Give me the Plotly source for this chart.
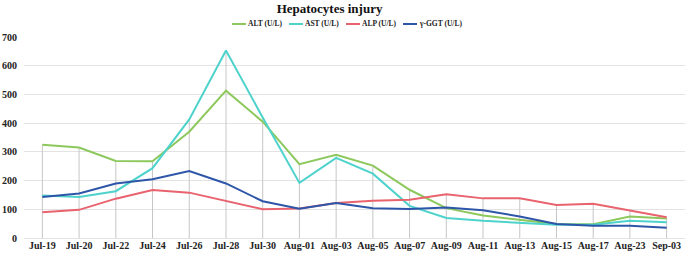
import plotly.graph_objects as go

dates = ["Jul-19", "Jul-20", "Jul-22", "Jul-24", "Jul-26", "Jul-28", "Jul-30", "Aug-01", "Aug-03",
         "Aug-05", "Aug-07", "Aug-09", "Aug-11", "Aug-13", "Aug-15", "Aug-17", "Aug-23", "Sep-03"]
alt = [325, 315, 268, 267, 370, 513, 405, 257, 290, 252, 168, 104, 78, 64, 49, 48, 75, 68]
ast = [148, 143, 163, 243, 413, 653, 420, 192, 279, 224, 112, 70, 60, 52, 46, 46, 60, 55]
alp = [90, 98, 137, 167, 158, 130, 100, 103, 122, 130, 133, 152, 138, 138, 115, 119, 96, 72]
ggt = [143, 155, 190, 205, 233, 190, 128, 102, 122, 104, 101, 106, 97, 75, 49, 43, 43, 36]

series_names = ["ALT (U/L)", "AST (U/L)", "ALP (U/L)", "γ-GGT (U/L)"]
series_values = [alt, ast, alp, ggt]
series_colors = ["#8CC85C", "#4DD3CC", "#E8636E", "#2E56A8"]

font_family = "Liberation Serif, Times New Roman, serif"
W, H = 685, 256
ML, MR, MT, MB = 24, 0, 37, 18
PW, PH = W - ML - MR, H - MT - MB

# drop lines from the highest value down to the axis
drop_x, drop_y = [], []
for i, d in enumerate(dates):
    top = max(v[i] for v in series_values)
    drop_x += [d, d, None]
    drop_y += [top, 0, None]

fig = go.Figure()
fig.add_trace(go.Scatter(x=drop_x, y=drop_y, mode="lines", showlegend=False, hoverinfo="skip",
                         line=dict(color="#C6C6C6", width=1)))
for name, vals, color in zip(series_names, series_values, series_colors):
    fig.add_trace(go.Scatter(x=dates, y=vals, mode="lines", name=name, showlegend=False,
                             line=dict(color=color, width=2)))

# custom compact legend (short line sample + label), positioned in pixels
legend_line_px = [232, 289, 346, 403]
legend_y_px = 24
def px_x(p):
    return (p - ML) / PW
def px_y(p):
    return 1 + (MT - p) / PH

shapes, annotations = [], []
for name, color, lx in zip(series_names, series_colors, legend_line_px):
    shapes.append(dict(type="line", xref="paper", yref="paper",
                       x0=px_x(lx), x1=px_x(lx + 14), y0=px_y(legend_y_px), y1=px_y(legend_y_px),
                       line=dict(color=color, width=2)))
    annotations.append(dict(text="<b>" + name + "</b>", xref="paper", yref="paper",
                            x=px_x(lx + 14), y=px_y(legend_y_px), xanchor="left", yanchor="middle",
                            showarrow=False, font=dict(size=7.5, family=font_family, color="#222222")))

fig.update_layout(
    width=W, height=H,
    margin=dict(l=ML, r=MR, t=MT, b=MB),
    paper_bgcolor="white", plot_bgcolor="white",
    font=dict(family=font_family, color="#222222"),
    title=dict(text="<b>Hepatocytes injury</b>", x=px_x(342), xanchor="center",
               y=1 - 8 / H, yanchor="middle",
               font=dict(size=13, family=font_family, color="#111111")),
    showlegend=False,
    shapes=shapes,
    annotations=annotations,
)
fig.update_xaxes(type="category", range=[-0.5, len(dates) - 0.5], showgrid=False,
                 showline=False, zeroline=False, ticks="",
                 tickfont=dict(size=10, family=font_family, color="#222222"),
                 tickprefix="<b>", ticksuffix="</b>")
fig.update_yaxes(range=[0, 700], dtick=100, showgrid=True, gridcolor="#E3E3E3", gridwidth=1,
                 zeroline=True, zerolinecolor="#E3E3E3", zerolinewidth=1, showline=False,
                 ticks="", tickfont=dict(size=10, family=font_family, color="#222222"),
                 tickprefix="<b>", ticksuffix="</b>", ticklabelstandoff=6)

fig.write_html("out.html", post_script="document.body.style.margin='0';",
               config={"displayModeBar": False})
